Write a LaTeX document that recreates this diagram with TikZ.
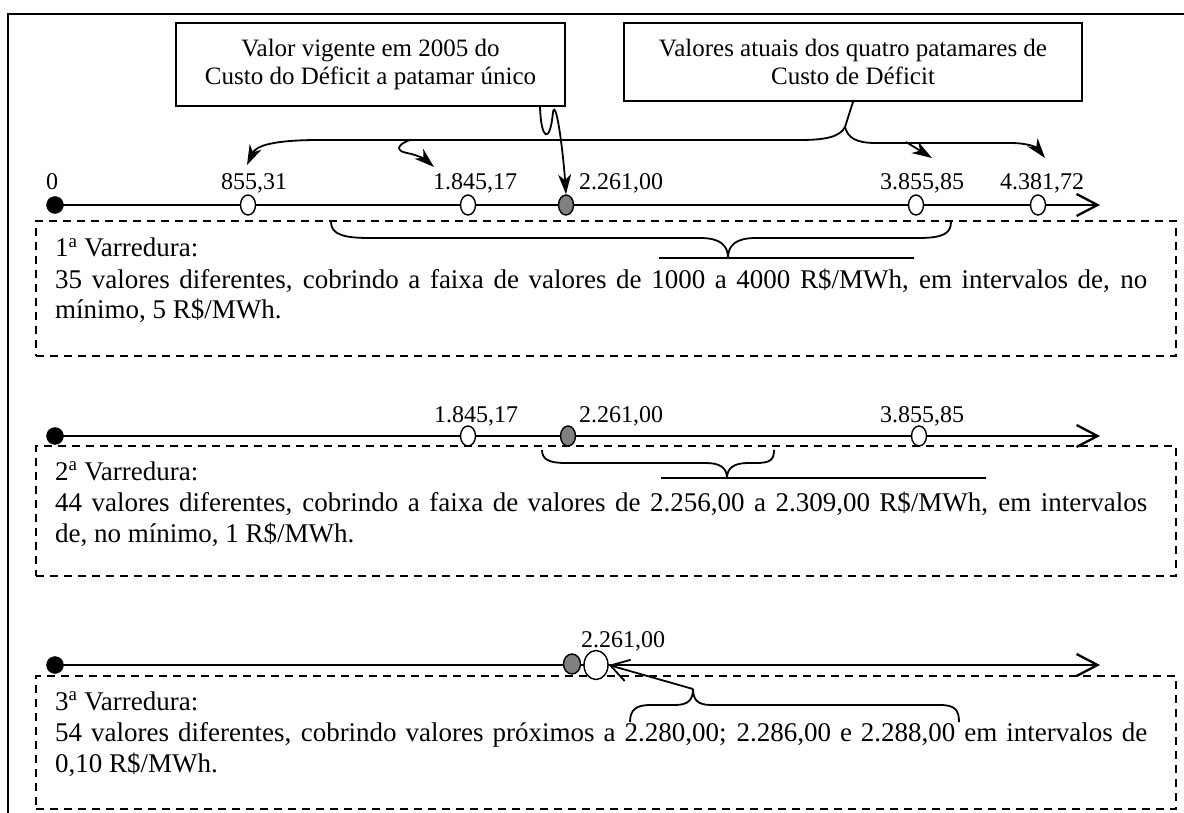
\documentclass[tikz,border=0pt]{standalone}
\usepackage{fontspec}
\setmainfont{Liberation Serif}
\usetikzlibrary{arrows.meta,shapes.geometric,backgrounds}
\definecolor{dotgray}{RGB}{128,128,128}
\begin{document}
\begin{tikzpicture}[x=1pt,y=-1pt,
  lbl/.style={font=\fontsize{24}{28}\selectfont, inner sep=0pt, anchor=base},
  tline/.style={font=\fontsize{27}{31}\selectfont, inner sep=0pt, anchor=base west},
  axisline/.style={line width=2.3pt, -{Straight Barb[length=21pt,width=22pt]}},
  wdot/.style={ellipse, draw, fill=white, line width=1.4pt, minimum width=15pt, minimum height=20pt, inner sep=0pt},
  gdot/.style={wdot, fill=dotgray},
  bdot/.style={circle, fill=black, draw, minimum size=17pt, inner sep=0pt},
  dbox/.style={draw, line width=1.6pt, dash pattern=on 8pt off 6pt, anchor=north west, inner sep=0pt, minimum width=1140pt},
  tbox/.style={draw, line width=1.8pt, font=\fontsize{25}{28}\selectfont, align=center, inner sep=0pt},
  conn/.style={line width=1.8pt, -{Stealth[length=20pt,width=13pt,inset=6pt]}},
  barb/.style={line width=1.8pt, -{Straight Barb[length=18pt,width=22pt]}},
  brace/.style={line width=1.8pt},
]
\useasboundingbox (0,0) rectangle (1184,813);
\draw[line width=2pt] (8,813) -- (8,14) -- (1184,14);

% text boxes
\node[tbox, minimum width=389pt, minimum height=83pt] (A) at (370.5,64.5) {Valor vigente em 2005 do\\Custo do Déficit a patamar único};
\node[tbox, minimum width=458pt, minimum height=78pt] (B) at (853,62) {Valores atuais dos quatro patamares de\\Custo de Déficit};

% row 1
\node[bdot] (Z1) at (55,205) {};
\node[wdot] (P1a) at (248,205) {};
\node[wdot] (P1b) at (468,205) {};
\node[gdot] (G1) at (566,205) {};
\node[wdot] (P1c) at (916,205) {};
\node[wdot] (P1d) at (1038,205) {};
\coordinate (E1) at (1100,205);
\node[lbl] (L1z) at (52,190) {0};
\node[lbl] (L1a) at (254,190) {855,31};
\node[lbl] (L1b) at (475,190) {1.845,17};
\node[lbl] (L1g) at (621,190) {2.261,00};
\node[lbl] (L1c) at (922,190) {3.855,85};
\node[lbl] (L1d) at (1042,190) {4.381,72};

% row 2
\node[bdot] (Z2) at (55,436) {};
\node[wdot] (P2b) at (468,436) {};
\node[gdot] (G2) at (568,436) {};
\node[wdot] (P2c) at (919,436) {};
\coordinate (E2) at (1100,436);
\node[lbl] (L2b) at (476,422) {1.845,17};
\node[lbl] (L2g) at (621,422) {2.261,00};
\node[lbl] (L2c) at (922,422) {3.855,85};

% row 3
\node[bdot] (Z3) at (55,665) {};
\node[gdot, minimum width=17pt, minimum height=20pt] (G3) at (572,664) {};
\node[wdot, minimum width=24pt, minimum height=29pt] (W3) at (596,665) {};
\coordinate (E3) at (1100,665);
\node[lbl] (L3g) at (623,647) {2.261,00};

% text lines
\node[tline] (T1a) at (55,257) {1\textsuperscript{a} Varredura:};
\node[tline] (T1b) at (55,288) {\makebox[1092pt][s]{35 valores diferentes, cobrindo a faixa de valores de 1000 a 4000 R\$/MWh, em intervalos de, no}};
\node[tline] (T1c) at (55,318) {mínimo, 5 R\$/MWh.};
\node[tline] (T2a) at (55,480) {2\textsuperscript{a} Varredura:};
\node[tline] (T2b) at (55,511) {\makebox[1092pt][s]{44 valores diferentes, cobrindo a faixa de valores de 2.256,00 a 2.309,00 R\$/MWh, em intervalos}};
\node[tline] (T2c) at (55,542) {de, no mínimo, 1 R\$/MWh.};
\node[tline] (T3a) at (55,710) {3\textsuperscript{a} Varredura:};
\node[tline] (T3b) at (55,741) {\makebox[1092pt][s]{54 valores diferentes, cobrindo valores próximos a 2.280,00; 2.286,00 e 2.288,00 em intervalos de}};
\node[tline] (T3c) at (55,772) {0,10 R\$/MWh.};

\begin{pgfonlayer}{background}
\node[dbox, minimum height=135pt] (V1) at (35,220) {};
\node[dbox, minimum height=130pt] (V2) at (35,445) {};
\node[dbox, minimum height=133pt] (V3) at (35,675) {};
\draw[axisline] (Z1.center) -- (E1);
\draw[axisline] (Z2.center) -- (E2);
\draw[axisline] (Z3.center) -- (E3);
\end{pgfonlayer}

% connectors from box B
\coordinate (jB) at (845,127);
\draw[conn] (B.south) -- (jB) .. controls (840,137) and (825,140) .. (800,140) -- (320,140) .. controls (272,140) and (256,146) .. (247,165);
\draw[conn] (jB) .. controls (848,138) and (856,143) .. (876,143) -- (1010,143) .. controls (1030,143) and (1037,148) .. (1045,158);
\coordinate (k1) at (906,142);
\draw[conn] (k1) -- (932,158);
% hook to 1.845,17
\coordinate (h1) at (410,140);
\draw[conn] (h1) .. controls (396,145) and (396,151) .. (407,153) .. controls (418,155) and (426,160) .. (434,167);
% connector from box A
\draw[conn] ([xshift=169.5pt]A.south) .. controls (541,140) and (550,145) .. (553,112) .. controls (556,98) and (563,150) .. (G1.north);

% braces
\draw[brace] (331,222) .. controls (331,235) and (345,238) .. (370,238) -- (700,238) .. controls (720,238) and (728,245) .. (728,258) .. controls (728,245) and (736,238) .. (756,238) -- (918,238) .. controls (942,238) and (951,234) .. (951,222);
\draw[brace] (659,258) -- (914,258);
\draw[brace] (542,450) .. controls (542,460) and (550,463) .. (566,463) -- (706,463) .. controls (720,463) and (727,468) .. (727,478) .. controls (727,468) and (734,463) .. (748,463) -- (756,463) .. controls (770,463) and (774,460) .. (774,450);
\draw[brace] (661,478) -- (986,478);
\coordinate (C3) at (693,689);
\draw[brace] (630,722) .. controls (630,710) and (636,705) .. (650,705) -- (675,705) .. controls (688,705) and (693,700) .. (C3) .. controls (693,700) and (698,705) .. (711,705) -- (940,705) .. controls (955,705) and (959,710) .. (959,722);
\draw[barb] (C3) -- (W3.east);
\end{tikzpicture}
\end{document}
